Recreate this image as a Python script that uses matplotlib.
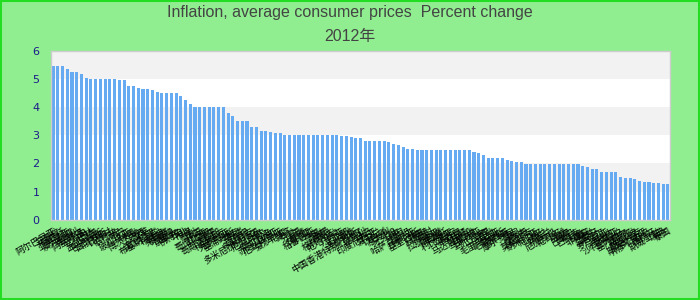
import matplotlib
matplotlib.use("Agg")
import matplotlib.pyplot as plt
from matplotlib.patches import Rectangle

# 2012 inflation, sorted high to low
valores = [
    5.47, 5.47, 5.47, 5.36, 5.25, 5.25, 5.18, 5.04, 5.0, 5.0,
    5.0, 5.0, 5.0, 5.0, 4.97, 4.97, 4.76, 4.76, 4.69, 4.65,
    4.65, 4.61, 4.54, 4.51, 4.51, 4.51, 4.51, 4.40, 4.26, 4.12,
    4.01, 4.01, 4.01, 4.01, 4.01, 4.01, 4.01, 3.80, 3.69, 3.51,
    3.51, 3.51, 3.30, 3.30, 3.16, 3.16, 3.12, 3.08, 3.08, 3.01,
    3.01, 3.01, 3.01, 3.01, 3.01, 3.01, 3.01, 3.01, 3.01, 3.01,
    3.01, 2.98, 2.98, 2.94, 2.92, 2.91, 2.80, 2.80, 2.80, 2.80,
    2.80, 2.76, 2.69, 2.66, 2.59, 2.51, 2.51, 2.49, 2.49, 2.49,
    2.49, 2.49, 2.49, 2.49, 2.49, 2.49, 2.49, 2.49, 2.49, 2.41,
    2.37, 2.30, 2.19, 2.19, 2.19, 2.19, 2.12, 2.09, 2.05, 2.05,
    1.98, 1.98, 1.98, 1.98, 1.98, 1.98, 1.98, 1.98, 1.98, 1.98,
    1.98, 1.98, 1.91, 1.87, 1.80, 1.80, 1.70, 1.70, 1.70, 1.70,
    1.52, 1.48, 1.48, 1.45, 1.38, 1.34, 1.34, 1.30, 1.30, 1.27,
    1.27,
]

paises = [
    "阿尔巴尼亚", "安哥拉", "阿根廷", "亚美尼亚", "澳大利亚", "奥地利", "阿塞拜疆", "巴哈马",
    "巴林", "孟加拉国", "巴巴多斯", "白俄罗斯", "比利时", "伯利兹", "贝宁", "不丹",
    "玻利维亚", "波黑", "博茨瓦纳", "巴西", "文莱", "保加利亚", "布基纳法索", "布隆迪",
    "柬埔寨", "喀麦隆", "加拿大", "佛得角", "中非", "乍得", "智利", "中国",
    "哥伦比亚", "科摩罗", "刚果", "哥斯达黎加", "科特迪瓦", "克罗地亚", "塞浦路斯", "捷克",
    "丹麦", "吉布提", "多米尼克", "多米尼加共和国", "厄瓜多尔", "埃及", "萨尔瓦多", "赤道几内亚",
    "厄立特里亚", "爱沙尼亚", "斐济", "芬兰", "法国", "加蓬", "冈比亚", "格鲁吉亚",
    "德国", "加纳", "希腊", "格林纳达", "危地马拉", "几内亚", "圭亚那", "海地",
    "洪都拉斯", "中国香港特别行政区", "匈牙利", "冰岛", "印度尼西亚", "爱尔兰", "以色列", "意大利",
    "牙买加", "日本", "约旦", "哈萨克斯坦", "肯尼亚", "基里巴斯", "韩国", "科威特",
    "老挝", "拉脱维亚", "黎巴嫩", "莱索托", "利比里亚", "立陶宛", "卢森堡", "马其顿",
    "马达加斯加", "马拉维", "马来西亚", "马尔代夫", "马里", "马耳他", "毛里塔尼亚", "毛里求斯",
    "墨西哥", "摩尔多瓦", "蒙古", "黑山", "摩洛哥", "莫桑比克", "纳米比亚", "尼泊尔",
    "荷兰", "新西兰", "尼加拉瓜", "尼日尔", "挪威", "阿曼", "巴拿马", "巴拉圭",
    "秘鲁", "菲律宾", "波兰", "葡萄牙", "卡塔尔", "罗马尼亚", "卢旺达", "萨摩亚",
    "沙特阿拉伯", "塞内加尔", "塞舌尔", "新加坡", "斯洛伐克", "斯洛文尼亚", "所罗门群岛", "西班牙",
    "斯威士兰", "瑞典", "泰国",
]

titulo = "Inflation, average consumer prices  Percent change\n2012年"

fontes = ["Liberation Sans", "Noto Sans CJK SC", "DejaVu Sans"]

fig = plt.figure(figsize=(7, 3), dpi=100, facecolor="#90ee90")
ax = fig.add_axes([0.0725, 0.268, 0.885, 0.562])
ax.set_facecolor("white")

# alternating bands
for y0 in (1, 3, 5):
    ax.axhspan(y0, y0 + 1, color="#f2f2f2", zorder=0, lw=0)

x = list(range(len(valores)))
ax.bar(x, valores, width=0.65, color="#66aaf2", zorder=2)

ax.set_xlim(-0.5, len(valores) - 0.5)
ax.set_ylim(0, 6)
ax.set_yticks(range(7))
ax.tick_params(axis="y", length=0, pad=8, labelsize=8, labelcolor="#1a1a8c")
ax.set_xticks(x)
ax.set_xticklabels(paises, rotation=30, ha="right", fontsize=6.5,
                   family=["Noto Sans CJK SC", "DejaVu Sans"], rotation_mode="anchor")
ax.tick_params(axis="x", length=0, pad=5)

for s in ax.spines.values():
    s.set_color("#cccccc")
    s.set_linewidth(1)

fig.text(0.5, 0.985, titulo, ha="center", va="top", fontsize=11.5,
         color="#444444", family=fontes, linespacing=1.75)

# green frame around figure
fig.patches.append(Rectangle((0.001, 0.002), 0.997, 0.995, transform=fig.transFigure,
                             fill=False, edgecolor="#22dd22", linewidth=1.5))

fig.savefig("out.png", dpi=100, facecolor=fig.get_facecolor())
